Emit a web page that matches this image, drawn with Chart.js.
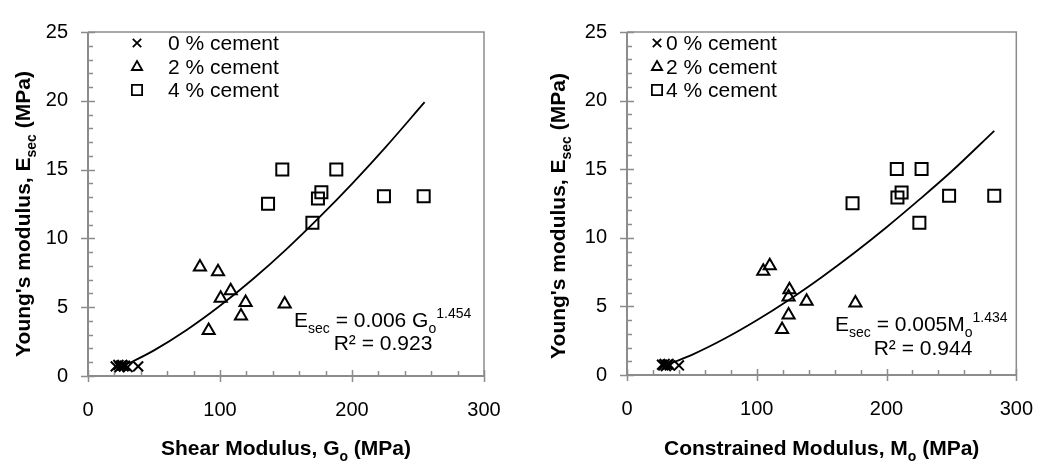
<!DOCTYPE html>
<html>
<head>
<meta charset="utf-8">
<script src="https://cdn.jsdelivr.net/npm/chart.js@4.4.1/dist/chart.umd.min.js"></script>
<style>
    html, body { margin: 0; padding: 0; background: #fff; }
    #wrap { position: relative; width: 1055px; height: 469px; }
    .box { position: absolute; top: 0; height: 469px; }
</style>
</head>
<body>
<div id="wrap">
    <div class="box" style="left:0;width:527px"><canvas id="chartG" width="527" height="469"></canvas></div>
    <div class="box" style="left:527px;width:528px"><canvas id="chartM" width="528" height="469"></canvas></div>
</div>
<script>
// ---- data ----
const legendLabels = ['0 % cement', '2 % cement', '4 % cement'];

// left panel: shear modulus Go
const g0x = [21, 23, 24, 25, 26, 27, 28, 30, 38];
const g0y = [0.7, 0.8, 0.65, 0.75, 0.8, 0.7, 0.75, 0.65, 0.7];
const g2x = [84.8, 98.5, 100.5, 108.1, 119.4, 115.9, 91.4, 149];
const g2y = [7.93, 7.58, 5.65, 6.19, 5.34, 4.36, 3.3, 5.23];
const g4x = [147.2, 188.1, 136.4, 174.2, 176.8, 170, 224.2, 254.3];
const g4y = [15.0, 15.0, 12.52, 12.9, 13.35, 11.13, 13.06, 13.06];
const gFitX = [22, 33, 50, 75, 100, 125, 150, 175, 200, 225, 255];
const gFitY = [0.56, 1.02, 1.86, 3.36, 5.10, 7.05, 9.19, 11.51, 13.97, 16.58, 19.9];

// right panel: constrained modulus Mo
const m0x = [27, 28, 29, 30, 31, 32, 33, 40];
const m0y = [0.75, 0.7, 0.8, 0.65, 0.75, 0.8, 0.7, 0.7];
const m2x = [105, 110, 125.2, 124.5, 138.4, 124.5, 119.5, 176];
const m2y = [7.57, 7.97, 6.22, 5.68, 5.37, 4.38, 3.31, 5.25];
const m4x = [207.9, 227, 173.8, 208.4, 211.6, 225.3, 248.2, 283];
const m4y = [15.02, 15.02, 12.51, 12.94, 13.3, 11.1, 13.06, 13.06];
const mFitX = [28, 50, 75, 100, 125, 150, 175, 200, 225, 250, 283];
const mFitY = [0.64, 1.47, 2.64, 3.99, 5.49, 7.13, 8.89, 10.77, 12.76, 14.83, 17.8];

const xTicks = [0, 100, 200, 300];
const yTicks = [0, 5, 10, 15, 20, 25];

const FONT = '"Liberation Sans", Arial, sans-serif';
const AXIS_GREY = '#8c8c8c';

const zip = (xs, ys) => xs.map((x, i) => ({ x: x, y: ys[i] }));

const markers = [
    { pointStyle: 'crossRot', radius: 7 },
    { pointStyle: 'triangle', radius: 7 },
    { pointStyle: 'rect', radius: 8.5 }
];

// draws text made of normal / sub / sup pieces
function richText(ctx, parts, x, y, size, bold, align) {
    const w = bold ? 'bold ' : '';
    const small = Math.round(size * 0.65);
    let total = 0;
    parts.forEach(p => {
        ctx.font = w + (p.sub || p.sup ? small : size) + 'px ' + FONT;
        p.w = ctx.measureText(p.t).width;
        total += p.w;
    });
    let cx = x;
    if (align === 'center') cx = x - total / 2;
    parts.forEach(p => {
        ctx.font = w + (p.sub || p.sup ? small : size) + 'px ' + FONT;
        let dy = 0;
        if (p.sub) dy = size * 0.3;
        if (p.sup) dy = -size * 0.45;
        ctx.fillText(p.t, cx, y + dy);
        cx += p.w;
    });
}

const framePlugin = {
    id: 'frame',
    beforeDatasetsDraw(chart) {
        const { ctx, chartArea: a, scales } = chart;
        const xs = scales.x, ys = scales.y;
        ctx.save();
        ctx.strokeStyle = AXIS_GREY;
        ctx.lineWidth = 1.5;
        ctx.beginPath();
        ctx.moveTo(a.left, a.top);
        ctx.lineTo(a.right, a.top);
        ctx.lineTo(a.right, a.bottom);
        ctx.stroke();
        ctx.lineWidth = 2;
        ctx.beginPath();
        ctx.moveTo(a.left, a.top);
        ctx.lineTo(a.left, a.bottom);
        ctx.lineTo(a.right, a.bottom);
        ctx.stroke();
        ctx.lineWidth = 1.5;
        ctx.beginPath();
        for (let v = 0; v <= 25; v++) {
            const py = Math.round(ys.getPixelForValue(v)) + 0.5;
            if (v % 5 === 0) {
                ctx.moveTo(a.left - 7, py);
                ctx.lineTo(a.left + 7, py);
            } else {
                ctx.moveTo(a.left, py);
                ctx.lineTo(a.left + 5, py);
            }
        }
        for (let v = 0; v <= 300; v += 20) {
            const px = Math.round(xs.getPixelForValue(v)) + 0.5;
            if (v % 100 === 0) {
                ctx.moveTo(px, a.bottom - 6);
                ctx.lineTo(px, a.bottom + 6);
            } else {
                ctx.moveTo(px, a.bottom - 5);
                ctx.lineTo(px, a.bottom);
            }
        }
        ctx.stroke();
        ctx.restore();
    },
    afterDraw(chart, args, opts) {
        const ctx = chart.ctx;
        const a = chart.chartArea;
        ctx.save();
        ctx.fillStyle = '#000';
        ctx.textBaseline = 'alphabetic';

        // axis titles
        richText(ctx, opts.xTitle, (a.left + a.right) / 2, opts.xTitleY, 21, true, 'center');
        ctx.save();
        ctx.translate(opts.yTitleX, opts.yTitleMid);
        ctx.rotate(-Math.PI / 2);
        richText(ctx, opts.yTitle, 0, 0, 21, true, 'center');
        ctx.restore();

        // legend
        legendLabels.forEach((lab, i) => {
            const yy = opts.legendY[i];
            const m = markers[i];
            ctx.save();
            ctx.strokeStyle = '#000';
            ctx.fillStyle = 'rgba(0,0,0,0)';
            ctx.lineWidth = 1.8;
            Chart.helpers.drawPoint(ctx, {
                pointStyle: m.pointStyle, rotation: 0,
                radius: m.radius * 0.85, borderWidth: 1.8
            }, opts.legendMarkX, yy);
            ctx.restore();
            ctx.font = '21px ' + FONT;
            ctx.textBaseline = 'middle';
            ctx.fillText(lab, opts.legendTextX, yy + 1);
            ctx.textBaseline = 'alphabetic';
        });

        // fit equation
        richText(ctx, opts.eq, opts.eqX, opts.eqY, 21, false, 'left');
        richText(ctx, opts.r2, opts.r2X, opts.r2Y, 21, false, 'center');
        ctx.restore();
    }
};

function makeChart(id, sets, fit, layout, extra) {
    const datasets = sets.map((s, i) => ({
        type: 'scatter',
        data: s,
        pointStyle: markers[i].pointStyle,
        pointRadius: markers[i].radius,
        pointBorderColor: '#000',
        pointBackgroundColor: 'rgba(0,0,0,0)',
        pointBorderWidth: 2
    }));
    datasets.push({
        type: 'line',
        data: fit,
        borderColor: '#000',
        borderWidth: 1.8,
        pointRadius: 0,
        cubicInterpolationMode: 'monotone',
        fill: false
    });
    return new Chart(document.getElementById(id), {
        data: { datasets: datasets },
        options: {
            responsive: false,
            animation: false,
            devicePixelRatio: 1,
            layout: { padding: { left: 0, right: layout.right, top: layout.top, bottom: 0 } },
            scales: {
                x: {
                    type: 'linear', min: 0, max: 300,
                    afterBuildTicks: s => { s.ticks = xTicks.map(v => ({ value: v })); },
                    afterFit: s => { s.height = layout.bottom; },
                    grid: { display: false, drawTicks: false },
                    border: { display: false },
                    ticks: { color: '#000', font: { family: FONT, size: 20 }, padding: 22 }
                },
                y: {
                    type: 'linear', min: 0, max: 25,
                    afterBuildTicks: s => { s.ticks = yTicks.map(v => ({ value: v })); },
                    afterFit: s => { s.width = layout.left; },
                    grid: { display: false, drawTicks: false },
                    border: { display: false },
                    ticks: { color: '#000', font: { family: FONT, size: 20 }, padding: 20 }
                }
            },
            plugins: {
                legend: { display: false },
                tooltip: { enabled: false },
                frame: extra
            }
        },
        plugins: [framePlugin]
    });
}

makeChart('chartG',
    [zip(g0x, g0y), zip(g2x, g2y), zip(g4x, g4y)],
    zip(gFitX, gFitY),
    { left: 88, right: 43, top: 21, bottom: 93 },
    {
        xTitle: [{ t: 'Shear Modulus, G' }, { t: 'o', sub: true }, { t: ' (MPa)' }],
        xTitleY: 455,
        yTitle: [{ t: "Young's modulus, E" }, { t: 'sec', sub: true }, { t: ' (MPa)' }],
        yTitleX: 30, yTitleMid: 214,
        legendMarkX: 137, legendTextX: 168, legendY: [43, 67, 90],
        eq: [{ t: 'E' }, { t: 'sec', sub: true }, { t: ' = 0.006 G' }, { t: 'o', sub: true }, { t: '1.454', sup: true }],
        eqX: 294, eqY: 327,
        r2: [{ t: 'R² = 0.923' }], r2X: 383, r2Y: 350
    });

makeChart('chartM',
    [zip(m0x, m0y), zip(m2x, m2y), zip(m4x, m4y)],
    zip(mFitX, mFitY),
    { left: 100, right: 26, top: 23, bottom: 94 },
    {
        xTitle: [{ t: 'Constrained Modulus, M' }, { t: 'o', sub: true }, { t: ' (MPa)' }],
        xTitleY: 455,
        yTitle: [{ t: "Young's modulus, E" }, { t: 'sec', sub: true }, { t: ' (MPa)' }],
        yTitleX: 38, yTitleMid: 216,
        legendMarkX: 130, legendTextX: 139, legendY: [43, 67, 90],
        eq: [{ t: 'E' }, { t: 'sec', sub: true }, { t: ' = 0.005M' }, { t: 'o', sub: true }, { t: '1.434', sup: true }],
        eqX: 308, eqY: 331,
        r2: [{ t: 'R² = 0.944' }], r2X: 396, r2Y: 355
    });
</script>
</body>
</html>
